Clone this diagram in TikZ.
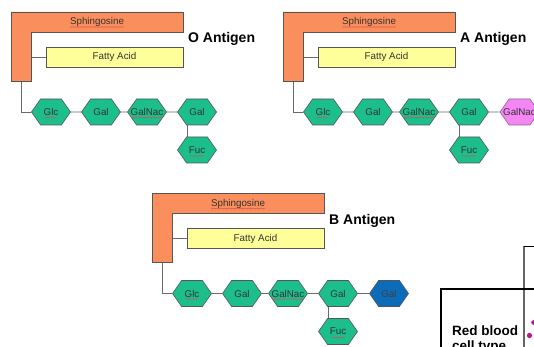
\documentclass[tikz,border=0pt]{standalone}
\usepackage{fontspec}
\setmainfont{Liberation Sans}
\usetikzlibrary{shapes.symbols,calc,decorations.pathmorphing,backgrounds}
\pgfdeclarelayer{paper}
\pgfsetlayers{paper,background,main}

\definecolor{sphingo}{RGB}{250,142,92}
\definecolor{fatty}{RGB}{255,255,153}
\definecolor{sugar}{RGB}{28,190,140}
\definecolor{galblue}{RGB}{12,108,184}
\definecolor{galpink}{RGB}{245,135,245}
\definecolor{pinkedge}{RGB}{150,95,150}
\definecolor{edge}{RGB}{85,85,85}
\definecolor{link}{RGB}{105,105,105}
\definecolor{bullet}{RGB}{190,20,140}
\definecolor{spellred}{RGB}{215,80,80}

% sugar names are zero-width so every hexagon keeps the same size
\newcommand\hexlabel[1]{\makebox[0pt]{#1}}

\tikzset{
  smalltext/.style={font=\fontsize{9.8}{11}\selectfont, text=black!80},
  hex/.style={signal, signal to=east and west, signal pointer angle=110,
    minimum width=39pt, minimum height=26pt, inner sep=0pt,
    draw=edge, line width=0.6pt, fill=sugar, smalltext},
  lipidbar/.style={draw=edge, line width=0.6pt},
  linker/.style={draw=link, line width=0.8pt},
  squig/.style={draw=spellred, line width=0.3pt, decorate,
    decoration={snake, amplitude=0.45pt, segment length=1.6pt}},
  antigen/.style={font=\fontsize{14}{16}\selectfont\bfseries, anchor=west, inner sep=0pt},
  pics/glycolipid/.style={code={
    % sphingosine backbone (L shape) and fatty acid chain
    \draw[lipidbar, fill=sphingo] (11,12) -- (183,12) -- (183,32) -- (31,32)
      -- (31,81) -- (11,81) -- cycle;
    \node[smalltext, inner sep=0pt] (-sph) at (97,22) {Sphingosine};
    \node[lipidbar, fill=fatty, minimum width=137pt, minimum height=20pt,
      inner sep=0pt, smalltext] (-fa) at (114.5,57) {Fatty Acid};
    \coordinate (-faroot) at (31,57);
    \coordinate (-stem) at (21,81);
    \node[antigen] (-name) at (188,39) {#1};
    % core oligosaccharide
    \node[hex] (-glc)    at (51,112)  {\hexlabel{Glc}};
    \node[hex] (-gal)    at (101,112) {\hexlabel{Gal}};
    \node[hex] (-galnac) at (147,112) {\hexlabel{GalNac}};
    \node[hex] (-gal2)   at (197,112) {\hexlabel{Gal}};
    \node[hex] (-fuc)    at (197,150) {\hexlabel{Fuc}};
    \begin{scope}[on background layer]
      \draw[linker] (-faroot) -- (-fa.west);
      \draw[linker] (-stem) |- (-glc.west);
      \draw[linker] (-glc) -- (-gal);
      \draw[linker] (-gal) -- (-galnac);
      \draw[linker] (-galnac) -- (-gal2);
      \draw[linker] ($(-gal2.center)+(-10,0)$) -- ($(-fuc.center)+(-10,0)$);
    \end{scope}
    % spell-check marks under the labels
    \draw[squig] ($(-sph.center)+(-27,5)$) -- ++(54,0);
    \draw[squig] ($(-glc.center)+(-7,5.5)$) -- ++(13,0);
    \draw[squig] ($(-galnac.center)+(-16,5.5)$) -- ++(32,0);
    \draw[squig] ($(-fuc.center)+(-7,6)$) -- ++(14,0);
  }},
}

\begin{document}
\begin{tikzpicture}[x=1pt, y=-1pt]
  \useasboundingbox (0,0) rectangle (534,347);
  \begin{pgfonlayer}{paper}
    \fill[white] (0,0) rectangle (534,347);
  \end{pgfonlayer}

  \pic (O) at (0,0)       {glycolipid={O Antigen}};
  \pic (A) at (272,0)     {glycolipid={A Antigen}};
  \pic (B) at (141,181.5) {glycolipid={B Antigen}};

  % terminal sugars of the A and B antigens
  \node[hex, fill=galpink, draw=pinkedge] (A-galnac2) at (519.5,112) {\hexlabel{GalNac}};
  \node[hex, fill=galblue, text=black!75] (B-gal3) at (389,293.5) {\hexlabel{Gal}};
  \begin{scope}[on background layer]
    \draw[linker] (A-gal2) -- (A-galnac2);
    \draw[linker] (B-gal2) -- (B-gal3);
  \end{scope}

  % corner of the blood type table
  \draw[draw=black!60, line width=1.6pt] (524,246) -- (524,347);
  \draw[line width=0.9pt] (524,246) -- (534,246);
  \draw[line width=1.6pt] (441,347) -- (441,289) -- (534,289);
  \node[font=\fontsize{13.5}{15}\selectfont\bfseries, align=left,
    anchor=north west, inner sep=0pt] (rbc) at (452,326) {Red blood\\cell type};
  \fill[bullet] (533.5,322.5) circle[radius=2.3pt];
  \fill[bullet] (529.5,335.5) circle[radius=2.6pt];
\end{tikzpicture}
\end{document}
